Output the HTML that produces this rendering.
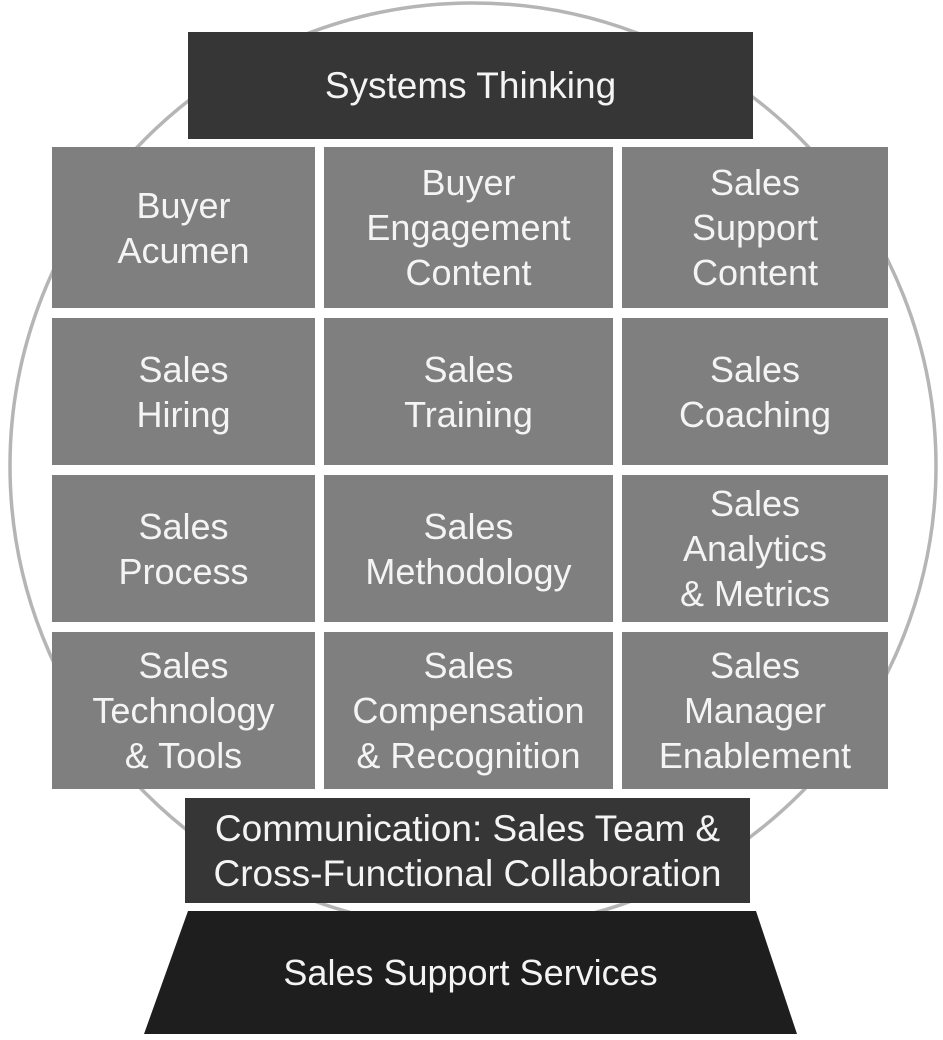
<!DOCTYPE html>
<html><head><style>
body{margin:0;width:943px;height:1040px;background:#fff;position:relative;overflow:hidden;font-family:"Liberation Sans",sans-serif;}
.b{position:absolute;display:flex;align-items:center;justify-content:center;text-align:center;color:#f4f4f4;font-size:36px;line-height:45px;background:#7f7f7f;white-space:nowrap;}
.d{background:#363636;font-size:37px;}
</style></head><body>
<svg width="943" height="1040" style="position:absolute;left:0;top:0">
<circle cx="473" cy="466" r="463" fill="none" stroke="#b5b5b5" stroke-width="3.5"/>
<polygon points="188,911 756,911 797,1034 144,1034" fill="#1e1e1e"/>
</svg>
<div class="b d" style="left:188px;top:32px;width:565px;height:107px">Systems Thinking</div>
<div class="b" style="left:52px;top:147px;width:263px;height:161px">Buyer<br>Acumen</div>
<div class="b" style="left:324px;top:147px;width:289px;height:161px">Buyer<br>Engagement<br>Content</div>
<div class="b" style="left:622px;top:147px;width:266px;height:161px">Sales<br>Support<br>Content</div>
<div class="b" style="left:52px;top:318px;width:263px;height:147px">Sales<br>Hiring</div>
<div class="b" style="left:324px;top:318px;width:289px;height:147px">Sales<br>Training</div>
<div class="b" style="left:622px;top:318px;width:266px;height:147px">Sales<br>Coaching</div>
<div class="b" style="left:52px;top:475px;width:263px;height:147px">Sales<br>Process</div>
<div class="b" style="left:324px;top:475px;width:289px;height:147px">Sales<br>Methodology</div>
<div class="b" style="left:622px;top:475px;width:266px;height:147px">Sales<br>Analytics<br>&amp; Metrics</div>
<div class="b" style="left:52px;top:632px;width:263px;height:157px">Sales<br>Technology<br>&amp; Tools</div>
<div class="b" style="left:324px;top:632px;width:289px;height:157px">Sales<br>Compensation<br>&amp; Recognition</div>
<div class="b" style="left:622px;top:632px;width:266px;height:157px">Sales<br>Manager<br>Enablement</div>
<div class="b d" style="left:185px;top:798px;width:565px;height:105px">Communication: Sales Team &amp;<br>Cross-Functional Collaboration</div>
<div class="b" style="background:none;left:144px;top:911px;width:653px;height:123px">Sales Support Services</div>
</body></html>
